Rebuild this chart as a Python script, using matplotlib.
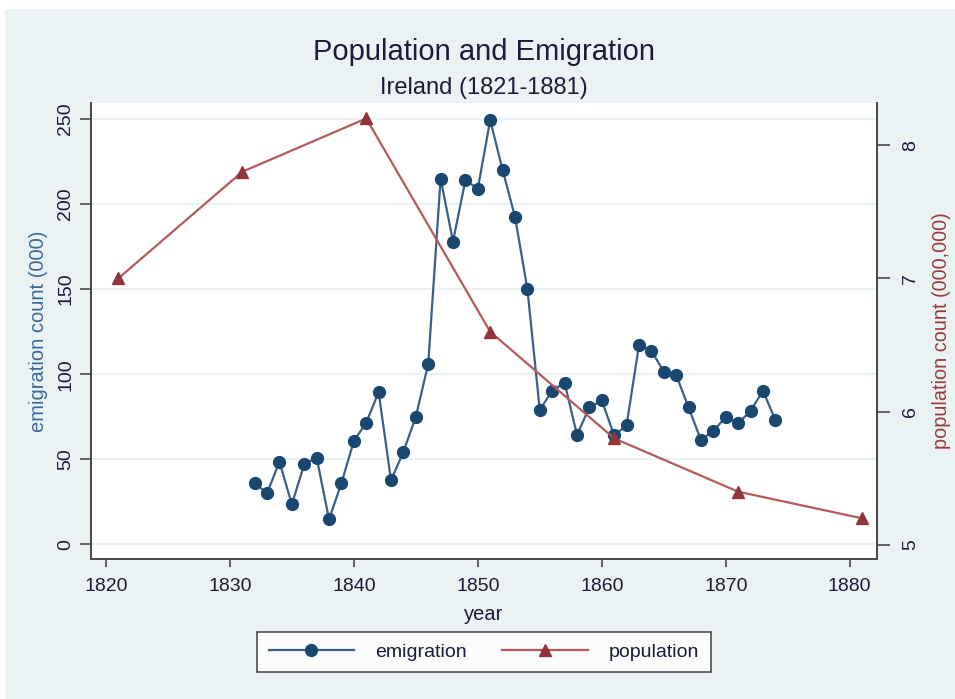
import matplotlib
matplotlib.use("Agg")
import matplotlib.pyplot as plt
from matplotlib.patches import Rectangle

plt.rcParams['font.family'] = ['Liberation Sans', 'DejaVu Sans']

# dados
emig_years = list(range(1832, 1875))
emigration = [36, 30, 48.6, 23.5, 47, 51, 14.7, 36, 60.7, 71.5,
              89.5, 37.6, 54.4, 75, 106, 215, 178, 214, 209, 249.4,
              220, 192.6, 150, 79, 90.3, 95, 64.3, 80.5, 84.6, 64,
              70, 117, 113.8, 101.5, 99.5, 80.5, 61.3, 66.8, 74.7, 71.1,
              78.4, 90.3, 73.1]
pop_years = [1821, 1831, 1841, 1851, 1861, 1871, 1881]
population = [7.0, 7.8, 8.2, 6.6, 5.8, 5.4, 5.2]
x_ticks = [1820, 1830, 1840, 1850, 1860, 1870, 1880]
left_ticks = [0, 50, 100, 150, 200, 250]
right_ticks = [5, 6, 7, 8]

bg = '#eaf2f3'
navy = '#1a476f'
navy_line = '#3b5f86'
maroon = '#90353b'
maroon_line = '#b45a5c'
axcol = '#4a4a4a'
txt = '#1c1c3a'

W, H = 955, 699
fig = plt.figure(figsize=(W / 100, H / 100), dpi=100)
fig.patch.set_facecolor(bg)
# faixas brancas da borda
fig.patches.append(Rectangle((0, 1 - 9 / H), 1, 9 / H, transform=fig.transFigure,
                             facecolor='white', edgecolor='none', zorder=0))
fig.patches.append(Rectangle((0, 0), 4.5 / W, 1, transform=fig.transFigure,
                             facecolor='white', edgecolor='none', zorder=0))

ax = fig.add_axes([91 / W, 1 - 559 / H, (877 - 91) / W, (559 - 103) / H])
ax.set_facecolor('white')
ax2 = ax.twinx()

ax.plot(emig_years, emigration, color=navy_line, lw=1.6, marker='o', ms=8.5,
        mfc=navy, mec=navy, label='emigration', zorder=3)
ax2.plot(pop_years, population, color=maroon_line, lw=1.6, marker='^', ms=8.5,
         mfc=maroon, mec=maroon, label='population', zorder=3)

ax.set_xlim(1818.8, 1882.2)
ax.set_ylim(-8.6, 259.4)
ax2.set_ylim(4.895, 8.316)

ax.set_xticks(x_ticks)
ax.set_yticks(left_ticks)
ax2.set_yticks(right_ticks)

ax.grid(axis='y', color=bg, lw=1.6, zorder=0)
ax.set_axisbelow(True)

for a in (ax, ax2):
    a.spines['top'].set_visible(False)
    for s in ('left', 'bottom', 'right'):
        a.spines[s].set_color(axcol)
        a.spines[s].set_linewidth(1.3)

ax.tick_params(axis='x', length=6, width=1.2, color=axcol, labelsize=14,
               labelcolor=txt, pad=8)
ax.tick_params(axis='y', length=8, width=1.2, color=axcol, labelsize=14,
               labelcolor=txt, pad=4, labelrotation=90)
ax2.tick_params(axis='y', length=9, width=1.2, color=axcol, labelsize=14,
                labelcolor=txt, pad=9, labelrotation=90)
for lab in ax.get_yticklabels():
    lab.set_va('center')
for lab in ax2.get_yticklabels():
    lab.set_va('center')

ax.set_xlabel('year', fontsize=14.5, color=txt, labelpad=7)
ax.set_ylabel('emigration count (000)', fontsize=14.5, color='#3b6a9a', labelpad=7)
ax2.set_ylabel('population count (000,000)', fontsize=14.3, color='#9b3b3e',
               labelpad=9)

fig.text(484 / W, 1 - 52 / H, 'Population and Emigration', fontsize=21,
         color=txt, ha='center', va='center')
fig.text(484 / W, 1 - 88 / H, 'Ireland (1821-1881)', fontsize=17,
         color=txt, ha='center', va='center')

h1, l1 = ax.get_legend_handles_labels()
h2, l2 = ax2.get_legend_handles_labels()
leg = fig.legend(h1 + h2, l1 + l2, loc='center', ncol=2,
                 bbox_to_anchor=(484 / W, 1 - 652 / H), fontsize=14,
                 frameon=True, fancybox=False, handlelength=4.4,
                 columnspacing=1.8, handletextpad=1.1, borderpad=0.6,
                 borderaxespad=0.0)
leg.get_frame().set_edgecolor('#222222')
leg.get_frame().set_linewidth(1.2)
for t in leg.get_texts():
    t.set_color(txt)

fig.savefig('out.png', dpi=100, facecolor=fig.get_facecolor())
